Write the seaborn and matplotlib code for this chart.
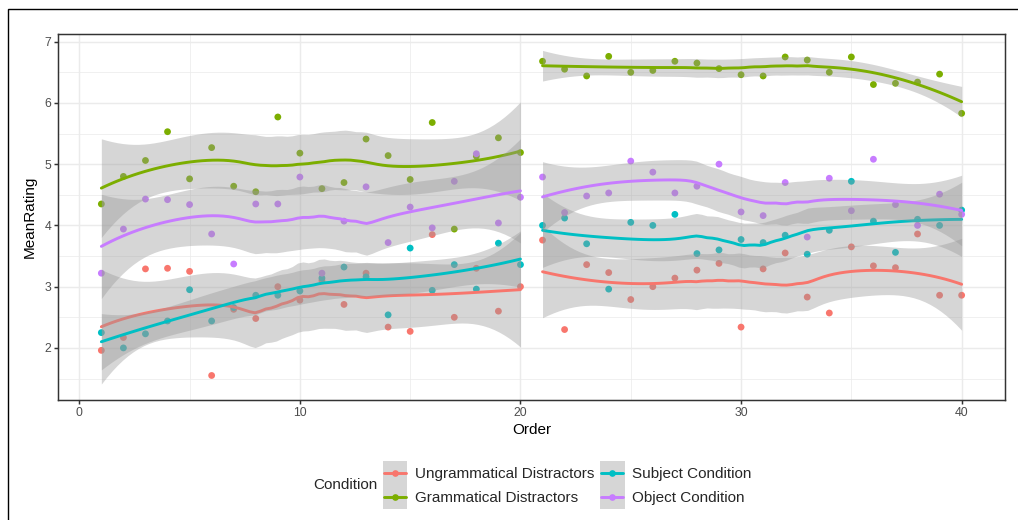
import numpy as np
import pandas as pd
import matplotlib
matplotlib.use("Agg")
import matplotlib.pyplot as plt
import seaborn as sns
from matplotlib.lines import Line2D
from matplotlib.patches import Rectangle

# ------------------------------------
# Data
# ------------------------------------
order = list(range(1, 41))

ungrammatical = [1.96, 2.17, 3.29, 3.30, 3.25, 1.55, 2.63, 2.48, 3.00, 2.78,
                 3.10, 2.71, 3.22, 2.34, 2.27, 3.85, 2.50, 3.30, 2.60, 3.00,
                 3.76, 2.30, 3.36, 3.23, 2.79, 3.00, 3.14, 3.27, 3.38, 2.34,
                 3.29, 3.55, 2.83, 2.57, 3.65, 3.34, 3.31, 3.86, 2.86, 2.86]

grammatical = [4.35, 4.80, 5.06, 5.53, 4.76, 5.27, 4.64, 4.55, 5.77, 5.18,
               4.60, 4.70, 5.41, 5.14, 4.75, 5.68, 3.94, 5.13, 5.43, 5.19,
               6.68, 6.55, 6.44, 6.76, 6.50, 6.53, 6.68, 6.65, 6.56, 6.46,
               6.44, 6.75, 6.70, 6.50, 6.75, 6.30, 6.32, 6.34, 6.47, 5.83]

subject = [2.25, 2.00, 2.23, 2.44, 2.95, 2.44, 2.66, 2.86, 2.86, 2.93,
           3.14, 3.32, 3.16, 2.54, 3.63, 2.94, 3.36, 2.96, 3.71, 3.36,
           4.00, 4.12, 3.70, 2.96, 4.05, 4.00, 4.18, 3.54, 3.60, 3.77,
           3.72, 3.84, 3.53, 3.92, 4.72, 4.07, 3.56, 4.10, 4.00, 4.25]

object_cond = [3.22, 3.94, 4.43, 4.42, 4.34, 3.86, 3.37, 4.35, 4.35, 4.79,
               3.22, 4.07, 4.63, 3.72, 4.30, 3.96, 4.72, 5.17, 4.04, 4.46,
               4.79, 4.21, 4.48, 4.53, 5.05, 4.87, 4.53, 4.64, 5.00, 4.22,
               4.16, 4.70, 3.81, 4.77, 4.24, 5.08, 4.34, 4.00, 4.51, 4.18]

conditions = ["Ungrammatical Distractors", "Grammatical Distractors",
              "Subject Condition", "Object Condition"]
colors = ["#F8766D", "#7CAE00", "#00BFC4", "#C77CFF"]
blocks = [(1, 20), (21, 40)]

df = pd.DataFrame({
    "Order": order * 4,
    "MeanRating": ungrammatical + grammatical + subject + object_cond,
    "Condition": np.repeat(conditions, len(order)),
})


# ------------------------------------
# Loess (degree 2, span 0.75) with 95% CI
# ------------------------------------
def t_quantile(df_):
    z = 1.959964
    return (z + (z**3 + z) / (4 * df_)
            + (5 * z**5 + 16 * z**3 + 3 * z) / (96 * df_**2)
            + (3 * z**7 + 19 * z**5 + 17 * z**3 - 15 * z) / (384 * df_**3))


def loess(x, y, grid, span=0.75):
    n = len(x)
    q = int(np.floor(n * span))

    def row(x0):
        d = np.abs(x - x0)
        h = np.sort(d)[q - 1]
        u = np.clip(d / h, 0, 1)
        w = (1 - u**3)**3
        X = np.column_stack([np.ones(n), x - x0, (x - x0)**2])
        XtW = X.T * w
        return np.linalg.solve(XtW @ X, XtW)[0]

    L = np.array([row(v) for v in x])
    G = np.array([row(v) for v in grid])
    fit = G @ y
    R = np.eye(n) - L
    M = R.T @ R
    d1 = np.trace(M)
    d2 = np.trace(M @ M)
    sigma = np.sqrt(np.sum((R @ y)**2) / d1)
    se = sigma * np.sqrt(np.sum(G**2, axis=1))
    t = t_quantile(d1**2 / d2)
    return fit, fit - t * se, fit + t * se


# ------------------------------------
# Legend key: grey box + line + point
# ------------------------------------
class KeyHandler:
    def __init__(self, color):
        self.color = color

    def legend_artist(self, legend, orig_handle, fontsize, handlebox):
        x0, y0 = -handlebox.xdescent, -handlebox.ydescent
        w, h = handlebox.width, handlebox.height
        tr = handlebox.get_transform()
        rect = Rectangle((x0, y0), w, h, facecolor="#D6D6D6",
                         edgecolor="none", transform=tr)
        line = Line2D([x0 + 1, x0 + w - 1], [y0 + h / 2] * 2,
                      color=self.color, linewidth=2.1, transform=tr)
        dot = Line2D([x0 + w / 2], [y0 + h / 2], color=self.color,
                     marker="o", markersize=4.8, markeredgewidth=0,
                     linestyle="none", transform=tr)
        handlebox.add_artist(rect)
        handlebox.add_artist(line)
        handlebox.add_artist(dot)
        return rect


# ------------------------------------
# Plot
# ------------------------------------
sns.set_theme(style="white")
plt.rcParams["font.family"] = ["Liberation Sans", "DejaVu Sans"]

fig = plt.figure(figsize=(10.18, 5.2), dpi=100)
ax = fig.add_axes([0.0573, 0.2308, 0.9296, 0.7044])

sns.scatterplot(data=df, x="Order", y="MeanRating", hue="Condition",
                hue_order=conditions, palette=colors, s=24, linewidth=0,
                legend=False, ax=ax, zorder=2)

z = 3
for cond, col in zip(conditions, colors):
    sub = df[df["Condition"] == cond]
    for lo, hi in blocks:
        seg = sub[(sub["Order"] >= lo) & (sub["Order"] <= hi)]
        x = seg["Order"].to_numpy(float)
        y = seg["MeanRating"].to_numpy(float)
        grid = np.linspace(x.min(), x.max(), 80)
        fit, low, high = loess(x, y, grid)
        ax.fill_between(grid, low, high, color="#999999", alpha=0.4,
                        linewidth=0, zorder=z)
        ax.plot(grid, fit, color=col, linewidth=2.1, zorder=z + 0.5)
        z += 1

ax.set_xlim(-0.95, 41.95)
ax.set_ylim(1.15, 7.13)
ax.set_xticks([0, 10, 20, 30, 40])
ax.set_xticks([5, 15, 25, 35], minor=True)
ax.set_yticks([2, 3, 4, 5, 6, 7])
ax.set_yticks([1.5, 2.5, 3.5, 4.5, 5.5, 6.5], minor=True)
ax.grid(which="major", color="#EBEBEB", linewidth=1.07)
ax.grid(which="minor", color="#EBEBEB", linewidth=0.53)
ax.set_axisbelow(True)

for s in ax.spines.values():
    s.set_color("#333333")
    s.set_linewidth(1.07)

ax.tick_params(which="major", length=2.75, width=1.07, color="#333333",
               labelsize=8.8, labelcolor="#4D4D4D", pad=2.2,
               bottom=True, left=True)
ax.tick_params(which="minor", length=0)

ax.set_xlabel("Order", fontsize=11, color="black", labelpad=3)
ax.set_ylabel("MeanRating", fontsize=11, color="black")
ax.yaxis.set_label_coords(-0.0225, 0.5)

# Legend
handles = [Line2D([], [], color=c) for c in colors]
fig.legend(handles, conditions, ncol=2, loc="center",
           bbox_to_anchor=(0.557, 1 - 485 / 520), frameon=False, fontsize=11,
           handlelength=1.6, handleheight=2.085, handletextpad=0.5,
           columnspacing=0.4, labelspacing=0.0, borderpad=0,
           handler_map={h: KeyHandler(c) for h, c in zip(handles, colors)})
fig.text(313.6 / 1018, 1 - 485 / 520, "Condition", fontsize=11,
         ha="left", va="center")

# Outer frame
fig.add_artist(Rectangle((8.3 / 1018, -0.5), 2, 0.5 + (1 - 9.3 / 520),
                         transform=fig.transFigure, fill=False,
                         edgecolor="black", linewidth=1.0, clip_on=False))

plt.savefig("out.png", dpi=100)
plt.close()
